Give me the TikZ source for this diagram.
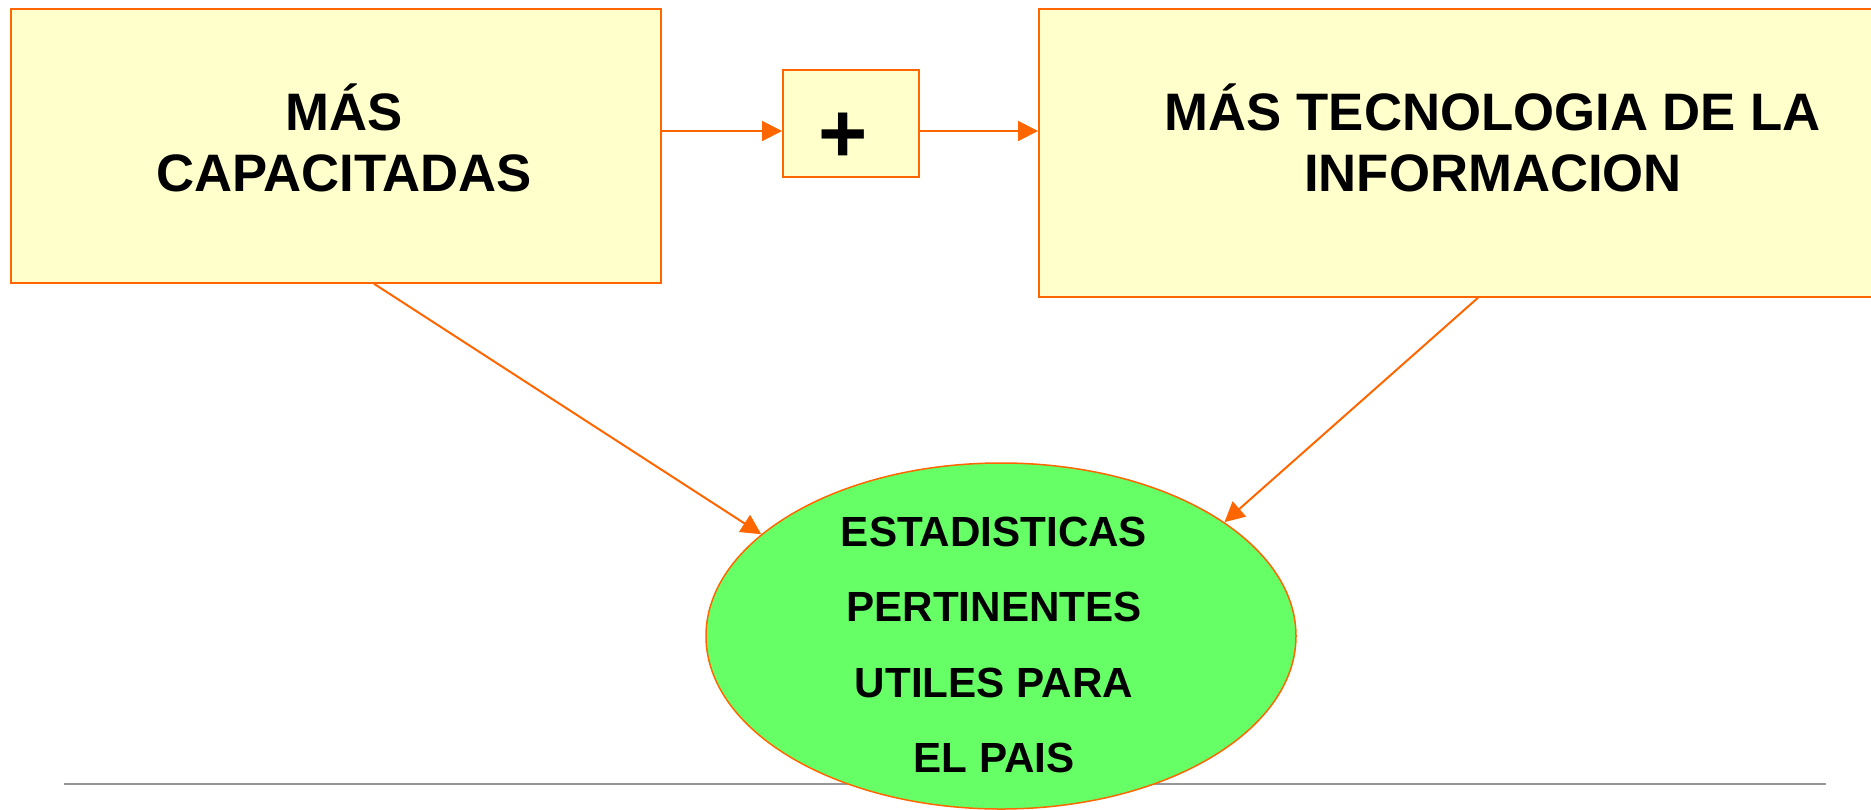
\documentclass[tikz,border=0pt]{standalone}
\usepackage{fontspec}
\setmainfont{Liberation Sans}
\usetikzlibrary{shapes.geometric, arrows.meta}
\definecolor{naranja}{RGB}{255,102,0}
\definecolor{crema}{RGB}{255,255,204}
\definecolor{verde}{RGB}{102,255,102}
\definecolor{gris}{RGB}{150,150,150}

\begin{document}
\begin{tikzpicture}[x = 0.2mm, y = -0.2mm,
  caja/.style = {draw = naranja, fill = crema, line width = 0.4mm, inner sep = 0pt},
  txtcaja/.style = {font = \bfseries\fontsize{30}{35}\selectfont, align = center},
  flecha/.style = {draw = naranja, line width = 0.4mm, -{Triangle[length = 4mm, width = 4mm]}}]
\useasboundingbox (0, 0) rectangle (1871, 809);
\clip (0, 0) rectangle (1871, 809);

\draw[gris, line width = 0.5mm] (64, 784) -- (1826, 784);

\node[caja, minimum width = 130mm, minimum height = 54.7mm] (capac) at (336, 146) {};
\node[caja, minimum width = 27.2mm, minimum height = 21.4mm] (mas) at (851, 123.5) {};
\node[caja, minimum width = 181.6mm, minimum height = 57.5mm] (tecno) at (1493, 153) {};
\node[ellipse, draw = naranja, fill = verde, line width = 0.3mm, inner sep = 0pt,
  minimum width = 118mm, minimum height = 69.2mm] (estad) at (1001, 636) {};

\node[txtcaja] (capac-t) at (344, 138) {MÁS\\CAPACITADAS};
\node[txtcaja] (tecno-t) at (1493, 138) {MÁS TECNOLOGIA DE LA\\INFORMACION};
\node[font = \bfseries\fontsize{48}{50}\selectfont, inner sep = 0pt] (mas-t) at (843, 138) {+};
\node[font = \bfseries\fontsize{24}{43}\selectfont, align = center] (estad-t) at (994, 645)
  {ESTADISTICAS\\PERTINENTES\\UTILES PARA\\EL PAIS};

\coordinate (fila) at (0, 131);
\draw[flecha] (capac.east |- fila) -- (mas.west |- fila);
\draw[flecha] (mas.east |- fila) -- (tecno.west |- fila);
\draw[flecha] ([xshift = 7.6mm]capac.south) -- (estad.157);
\draw[flecha] ([xshift = -3mm]tecno.south) -- (estad.27);
\end{tikzpicture}
\end{document}
